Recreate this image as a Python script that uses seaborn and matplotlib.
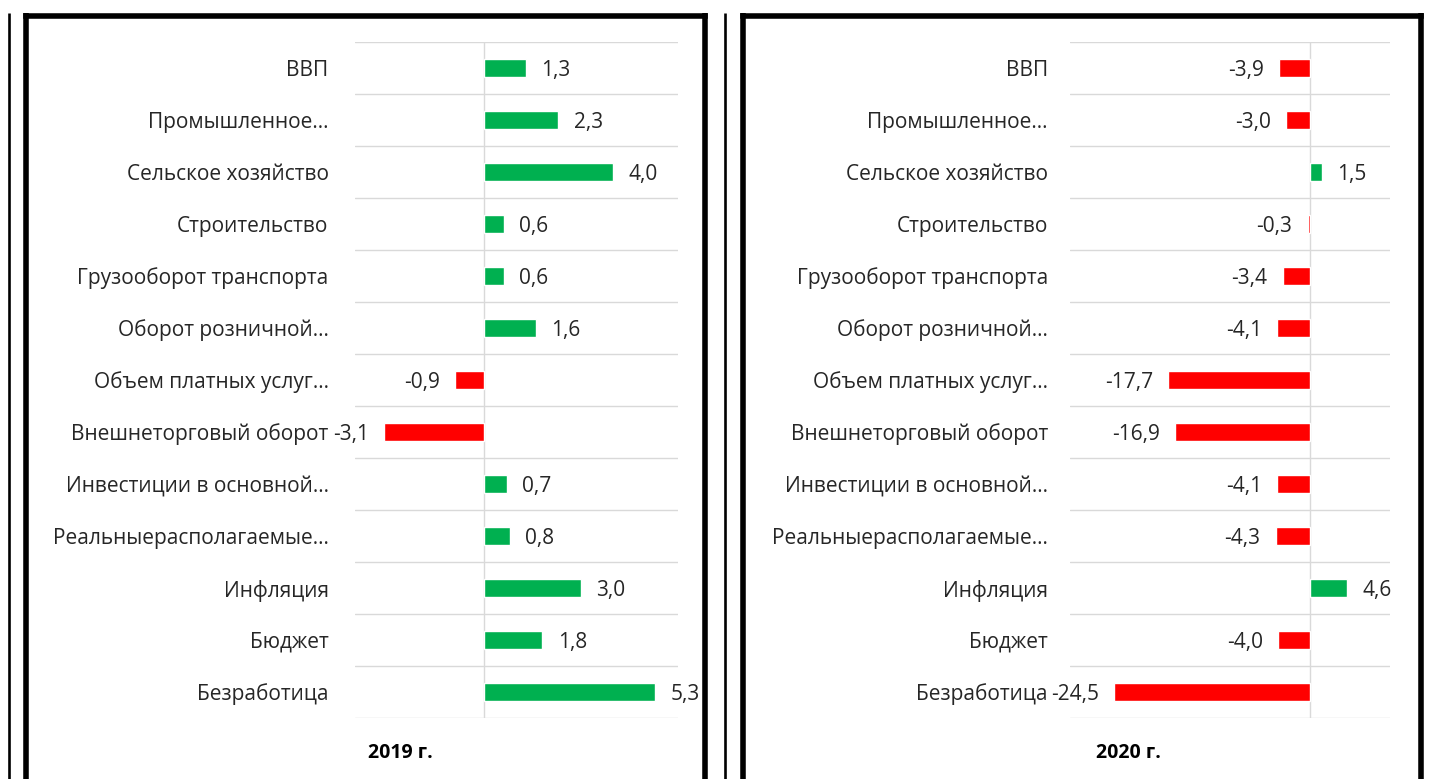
import numpy as np
import pandas as pd
import seaborn as sns
import matplotlib.pyplot as plt
from matplotlib.lines import Line2D

# Data
labels_2019 = [
    'ВВП', 'Промышленное…', 'Сельское хозяйство', 'Строительство',
    'Грузооборот транспорта', 'Оборот розничной…', 'Объем платных услуг…',
    'Внешнеторговый оборот', 'Инвестиции в основной…',
    'Реальныерасполагаемые…', 'Инфляция', 'Бюджет', 'Безработица',
]
labels_2020 = [
    'ВВП', 'Промышленное…', 'Сельское хозяйство', 'Строительство',
    'Грузооборот транспорта', 'Оборот розничной…', 'Объем платных услуг…',
    'Внешнеторговый оборот', 'Инвестиции в основной…',
    'Реальныерасполагаемые…', 'Инфляция', 'Бюджет', 'Безработица',
]
values_2019 = [1.3, 2.3, 4.0, 0.6, 0.6, 1.6, -0.9, -3.1, 0.7, 0.8, 3.0, 1.8, 5.3]
values_2020 = [-3.9, -3.0, 1.5, -0.3, -3.4, -4.1, -17.7, -16.9, -4.1, -4.3, 4.6, -4.0, -24.5]
years = ['2019 г.', '2020 г.']

GREEN = '#00B050'
RED = '#FF0000'
GRID = '#d9d9d9'
FS = 15

sns.set_style('white')
plt.rcParams['font.family'] = ['Open Sans', 'DejaVu Sans']

W, H = 1436, 779
fig = plt.figure(figsize=(W / 100, H / 100), dpi=100)


def fx(px):
    return px / W


def fy(py):
    return 1 - py / H


def draw_panel(rect, cats, vals, xlim, pad, title, title_x):
    ax = fig.add_axes(rect)
    df = pd.DataFrame({'cat': cats, 'val': vals})
    colors = [GREEN if v >= 0 else RED for v in vals]
    sns.barplot(data=df, x='val', y='cat', hue='cat', palette=colors,
                legend=False, width=0.35, orient='h', ax=ax, saturation=1)
    ax.set_xlim(*xlim)
    ax.set_ylim(len(cats) - 0.5, -0.5)
    ax.set_xlabel('')
    ax.set_ylabel('')
    ax.set_xticks([])
    ax.set_yticks(np.arange(-0.5, len(cats)), minor=True)
    ax.grid(which='minor', axis='y', color=GRID, linewidth=1)
    ax.tick_params(axis='y', which='both', length=0, pad=pad,
                   labelsize=FS, colors='#262626')
    ax.axvline(0, color=GRID, linewidth=1, zorder=0)
    for s in ax.spines.values():
        s.set_visible(False)
    for i, v in enumerate(vals):
        txt = f'{v:.1f}'.replace('.', ',')
        if v >= 0:
            ax.annotate(txt, (v, i), xytext=(11, -1.5), textcoords='offset points',
                        ha='left', va='center', fontsize=FS, color='#262626')
        else:
            ax.annotate(txt, (v, i), xytext=(-11, -1.5), textcoords='offset points',
                        ha='right', va='center', fontsize=FS, color='#262626')
    fig.text(title_x, fy(753), title, ha='center', va='center',
             fontsize=14, fontweight='bold', color='black')
    return ax


top, bottom = 42, 718
draw_panel([fx(355), fy(bottom), fx(678 - 355), (bottom - top) / H],
           labels_2019, values_2019, (-4, 6), 19, years[0], fx(400))
draw_panel([fx(1070), fy(bottom), fx(1390 - 1070), (bottom - top) / H],
           labels_2020, values_2020, (-30, 10), 16, years[1], fx(1128))

# table frame lines
thick, thin = 4.0, 1.9


def vline(x, lw):
    fig.add_artist(Line2D([fx(x), fx(x)], [fy(13), 0], lw=lw, color='black',
                          solid_capstyle='butt'))


def hline(x0, x1, lw):
    fig.add_artist(Line2D([fx(x0), fx(x1)], [fy(15.5), fy(15.5)], lw=lw,
                          color='black', solid_capstyle='projecting'))


vline(9, thin)
vline(26, thick)
vline(705, thick)
hline(26, 705, thick)
vline(724.5, thin)
vline(742.5, thick)
vline(1420.5, thick)
hline(742.5, 1420.5, thick)

fig.savefig('out.png', dpi=100)
